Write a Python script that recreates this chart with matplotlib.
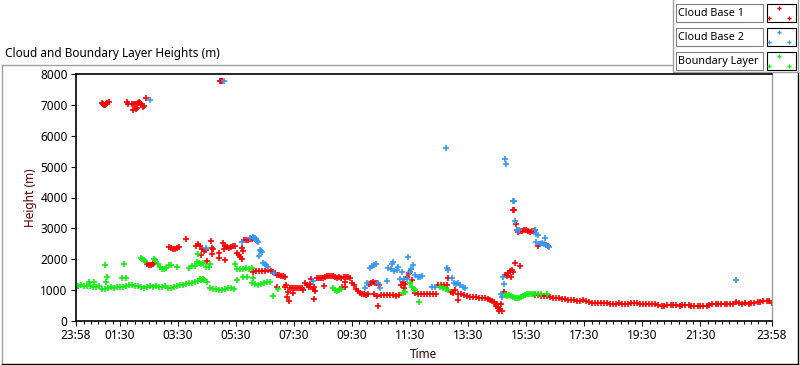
import matplotlib
matplotlib.use('Agg')
import matplotlib.pyplot as plt
from matplotlib.patches import Rectangle

plt.rcParams['font.family'] = ['Noto Sans', 'DejaVu Sans']

# time in hours after midnight (chart runs 23:58 -> 23:58), heights in m
cb1_t = [0.88, 0.91, 0.95, 0.98, 1.02, 1.05, 1.12,
         1.74, 1.78, 1.91, 1.95, 1.98, 2.02, 2.05, 2.09, 2.12, 2.16, 2.19, 2.22, 2.29, 2.33, 2.40,
         4.95, 4.98, 5.02,
         2.43, 2.50, 2.57, 2.64, 2.67,
         3.19, 3.26, 3.33, 3.40, 3.47, 3.53, 3.78,
         4.12, 4.19, 4.26, 4.29, 4.33, 4.40, 4.47, 4.50, 4.64, 4.67, 4.68, 4.71, 4.91, 4.92,
         5.05, 5.09, 5.12, 5.13, 5.19, 5.26, 5.33, 5.40, 5.47, 5.53, 5.60, 5.64, 5.71, 5.71,
         5.74, 5.78, 5.84, 5.91, 5.98, 6.05, 6.09,
         6.09, 6.19, 6.29, 6.40, 6.50, 6.60, 6.71, 6.78, 6.84, 6.91, 6.98, 7.05, 7.12, 7.19,
         6.91, 7.19, 7.22, 7.29, 7.26, 7.33, 7.36, 7.43, 7.50, 7.57, 7.64, 7.71, 7.78, 7.47, 7.81,
         7.88, 7.95, 8.02, 8.05, 8.09, 8.16, 8.19, 8.22, 8.20,
         8.29, 8.36, 8.43, 8.50, 8.57, 8.54, 8.64, 8.71, 8.78, 8.85, 8.91, 8.98, 9.05, 9.12,
         9.16, 9.26, 9.22, 9.29, 9.36, 9.43, 9.27,
         9.50, 9.57, 9.64, 9.71, 9.78, 9.84, 9.91, 9.98, 10.05, 10.09, 10.16, 10.22, 10.29,
         10.36, 10.43, 10.26, 10.36, 10.40,
         10.50, 10.60, 10.71, 10.81, 10.91, 11.02, 11.12, 11.19, 11.26, 11.33, 11.29, 11.40,
         11.47, 11.57,
         11.67, 11.78, 11.88, 11.98, 12.09, 12.19, 12.29, 12.40,
         12.47, 12.57, 12.67, 12.78, 12.81, 12.91, 12.98, 13.05, 13.16, 13.15, 13.26, 13.36,
         13.47, 13.57, 13.67, 13.78, 13.88, 13.98, 14.09,
         14.19, 14.26, 14.33, 14.40, 14.47, 14.50, 14.53, 14.60, 14.57, 14.67, 14.62,
         14.74, 14.78, 14.84, 14.88, 14.95, 14.98, 15.02, 15.05, 15.12, 15.29,
         15.05, 15.09, 15.14, 15.17, 15.22, 15.29, 15.36, 15.43, 15.50, 15.57, 15.64, 15.71,
         15.78, 15.81, 15.91, 15.98, 16.19, 16.26,
         15.81, 15.91, 16.02, 16.12, 16.22, 16.33, 16.43, 16.53, 16.64, 16.74, 16.84, 16.95,
         17.05, 17.16, 17.26, 17.36, 17.47, 17.57, 17.67, 17.78, 17.88, 17.98, 18.09, 18.19,
         18.29, 18.40, 18.50, 18.60, 18.71, 18.81, 18.91, 19.02, 19.12, 19.22, 19.33, 19.43,
         19.53, 19.64, 19.74, 19.84, 19.95, 20.05, 20.16, 20.26, 20.36, 20.47, 20.57, 20.67,
         20.78, 20.88, 20.98, 21.09, 21.19, 21.29, 21.40, 21.50, 21.60, 21.71, 21.81, 21.91,
         22.02, 22.12, 22.22, 22.33, 22.43, 22.53, 22.64, 22.74, 22.84, 22.95, 23.05, 23.16,
         23.26, 23.36, 23.47, 23.57, 23.67, 23.78, 23.88, 23.95]
cb1_h = [7060, 7040, 7000, 6990, 7030, 7060, 7100,
         7080, 7020, 7030, 6840, 7030, 7040, 6880, 6900, 7060, 7090, 7070, 7040, 6940, 6950, 7210,
         7760, 7780, 7760,
         1850, 1820, 1810, 1840, 1880,
         2400, 2370, 2330, 2320, 2350, 2390, 2650,
         2430, 2480, 2440, 2140, 2340, 2260, 2300, 1940, 2590, 2370, 2170, 2330, 2200, 2040,
         2530, 2320, 2430, 1980, 2400, 2380, 2400, 2420, 2430, 2200, 2130, 2070, 2010, 2360,
         2270, 2620, 2620, 2630, 2640, 2660, 2700,
         1600, 1610, 1620, 1630, 1620, 1640, 1630, 1600, 1550, 1500, 1480, 1460, 1470, 1440,
         1100, 1100, 1150, 940, 780, 650, 1070, 1060, 1070, 1060, 1080, 1070, 1060, 900, 1000,
         1230, 1150, 1100, 1200, 1360, 1040, 1100, 960, 710,
         1390, 1380, 1400, 1390, 1430, 1130, 1450, 1460, 1470, 1450, 1420, 1400, 1420, 1380,
         1100, 1100, 1430, 1440, 1430, 1400, 1270,
         1230, 1150, 1050, 980, 900, 880, 860, 850, 880, 1200, 1240, 1260, 1230,
         1220, 1180, 880, 820, 490,
         850, 840, 850, 830, 840, 820, 830, 1180, 1250, 1200, 1070, 1420,
         1560, 1330,
         900, 880, 880, 870, 880, 870, 860, 870,
         1160, 1170, 1180, 1170, 1390, 950, 920, 1000, 680, 880, 870, 830,
         800, 790, 780, 770, 760, 760, 740,
         720, 690, 640, 600, 500, 560, 430, 380, 320, 320, 560,
         940, 1500, 1450, 1550, 1620, 1420, 1650, 1600, 1880, 1780,
         3600, 3600, 3140, 2950, 2880, 2900, 2930, 2940, 2940, 2900, 2880, 2910,
         2930, 2950, 2420, 2480, 2470, 2420,
         840, 830, 820, 810, 800, 780, 760, 750, 740, 720, 700, 690,
         680, 670, 660, 660, 670, 640, 600, 590, 590, 590, 590, 580,
         570, 550, 550, 560, 570, 560, 550, 560, 570, 580, 570, 560,
         550, 550, 540, 550, 540, 520, 500, 500, 510, 520, 510, 510,
         500, 510, 520, 510, 500, 480, 470, 470, 480, 500, 520, 540,
         550, 550, 540, 550, 550, 560, 560, 600, 580, 560, 570, 560,
         570, 580, 600, 620, 650, 660, 640, 580]

cb2_t = [2.53, 5.09, 4.47, 5.71, 5.98, 6.09, 6.16, 6.19, 6.22, 6.26, 6.33, 6.36, 6.40, 6.29,
         6.43, 6.50, 6.53, 6.60, 6.81, 8.16, 9.95, 10.02, 10.12, 10.19, 10.26, 10.33, 10.40,
         10.47, 10.71, 10.74, 10.84, 10.88, 10.91, 10.95, 11.05, 11.09, 11.16, 11.22, 11.29,
         11.40, 11.43, 11.50, 11.53, 11.60, 11.67, 11.78, 11.84, 11.91, 12.26, 12.36, 12.74,
         12.78, 12.81, 12.95, 13.02, 13.09, 13.16, 13.22, 13.33, 13.40, 14.64, 14.67, 14.71,
         14.74, 14.78, 14.81, 15.05, 15.09, 15.12, 15.19, 15.26, 15.81, 15.84, 15.91, 16.15,
         15.85, 15.98, 16.05, 16.12, 16.19, 16.29, 22.71]
cb2_h = [7160, 7780, 2370, 2560, 2700, 2720, 2680, 2650, 2600, 2560, 2300, 2270, 2240, 2100,
         1880, 1830, 1800, 1760, 1550, 1300, 1070, 1230, 1720, 1780, 1820, 1850, 1230,
         1070, 1300, 1720, 1680, 1850, 1910, 1620, 1650, 1750, 1360, 1590, 1360,
         1350, 2070, 1600, 1700, 1800, 1490, 1420, 1420, 1460, 1100, 1100, 5600,
         1720, 1650, 1390, 1230, 1200, 1230, 1170, 1100, 1070, 880, 780, 1420,
         1200, 5250, 5090, 3890, 3890, 3240, 2950, 2950, 2950, 2820, 2800, 2690,
         2560, 2480, 2530, 2500, 2450, 2400, 1330]

bl_t = [-0.03, 0.05, 0.16, 0.26, 0.36, 0.47, 0.57, 0.67, 0.78, 0.88, 0.98, 1.09, 1.19, 1.29,
        1.40, 1.50, 1.60, 1.71, 1.81, 1.91, 2.02, 2.12, 2.22, 2.33, 2.43, 2.53, 2.64, 2.74,
        2.84, 2.95, 3.05, 3.16, 3.26, 3.36, 3.47, 3.57, 3.67, 3.78, 3.88, 3.98, 4.09, 4.19,
        4.29, 4.40, 4.50, 4.60, 4.71, 4.81, 4.91, 5.02, 5.12, 5.22, 5.33, 5.43,
        0.43, 0.60, 0.98, 1.02, 1.05, 1.57, 1.64, 1.70, 2.22, 2.26, 2.33, 2.36, 2.67, 2.71,
        2.81, 2.88, 2.95, 3.02, 3.09, 3.19, 3.26, 3.47, 3.88, 3.98, 4.09, 4.16, 4.22, 4.29,
        4.36, 4.19, 4.26, 4.36, 4.47, 4.57, 4.60,
        5.47, 5.53, 5.64, 5.74, 5.84, 5.95, 6.05, 5.53, 5.74, 5.88, 6.09, 6.05, 6.16, 6.26,
        6.36, 6.47, 6.57, 6.67, 6.78, 6.95,
        8.85, 8.91, 8.98, 9.05, 9.12,
        11.26, 11.33, 11.50, 11.57, 11.64, 11.67, 11.81, 12.53, 12.64, 12.74, 12.81,
        14.78, 14.84, 14.91, 14.98, 15.05, 15.12, 15.19, 15.26, 15.33, 15.40, 15.47, 15.53,
        15.60, 15.67, 15.74, 15.81, 15.91, 16.02, 16.22]
bl_h = [1080, 1130, 1160, 1140, 1120, 1130, 1100, 1090, 1120, 1050, 1030, 1060, 1090, 1080,
        1090, 1110, 1100, 1130, 1150, 1160, 1140, 1130, 1110, 1070, 1110, 1120, 1100, 1130,
        1100, 1090, 1120, 1080, 1060, 1090, 1130, 1150, 1170, 1200, 1220, 1240, 1260, 1300,
        1340, 1330, 1250, 1080, 1050, 1030, 1010, 1020, 1040, 1060, 1070, 1050,
        1250, 1270, 1810, 1270, 1440, 1390, 1840, 1380, 2040, 2010, 1970, 1930, 2010, 1960,
        1850, 1740, 1700, 1690, 1720, 1800, 1810, 1760, 1730, 1780, 1780, 1900, 1880, 1860,
        1880, 2170, 1360, 1360, 1750, 1760, 1850,
        1850, 1700, 1690, 1700, 1710, 1700, 1710, 1330, 1420, 1440, 1400, 1230, 1200, 1170,
        1200, 1230, 1260, 1260, 810, 1040,
        1060, 1000, 970, 1000, 1040,
        920, 940, 1230, 1100, 1040, 1000, 620, 1100, 1070, 1040, 1000,
        830, 820, 840, 810, 780, 750, 740, 750, 770, 820, 850, 870,
        880, 870, 880, 860, 880, 860, 870]

xtick_pos = [-2 / 60, 1.5, 3.5, 5.5, 7.5, 9.5, 11.5, 13.5, 15.5, 17.5, 19.5, 21.5, 24 - 2 / 60]
xtick_lab = ['23:58', '01:30', '03:30', '05:30', '07:30', '09:30', '11:30', '13:30',
             '15:30', '17:30', '19:30', '21:30', '23:58']
series_names = ['Cloud Base 1', 'Cloud Base 2', 'Boundary Layer']
series_colors = ['#ff0000', '#3399ff', '#11ee11']

fig = plt.figure(figsize=(8, 3.65), dpi=100)

# background layer in pixel coordinates for the frame and legend
bg = fig.add_axes([0, 0, 1, 1])
bg.set_xlim(0, 800)
bg.set_ylim(365, 0)
bg.axis('off')
grey = '#a0a0a0'
bg.plot([2, 2], [65, 364], color=grey, lw=1)
bg.plot([2, 673], [65, 65], color=grey, lw=1)
bg.plot([2, 798], [364, 364], color='black', lw=1)
bg.plot([798, 798], [72, 364], color='black', lw=1)
bg.plot([673, 673, 798, 798], [0, 72, 72, 0], color=grey, lw=1)

for i, (name, col) in enumerate(zip(series_names, series_colors)):
    y0 = 4 + 24 * i
    bg.add_patch(Rectangle((676, y0), 87, 18, facecolor='white', edgecolor='#808080', lw=0.8))
    bg.text(678, y0 + 9.5, name, fontsize=7.8, va='center', ha='left')
    bg.add_patch(Rectangle((767, y0), 29, 18, facecolor='white', edgecolor='black', lw=0.8))
    bg.plot([779, 769, 789], [y0 + 4, y0 + 14, y0 + 14], '+', color=col, ms=3.5, mew=1, ls='none')

fig.text(5 / 800, 1 - 54 / 365, 'Cloud and Boundary Layer Heights (m)', fontsize=8.5,
         va='center', ha='left')

ax = fig.add_axes([75.5 / 800, 1 - 321 / 365, (772 - 75.5) / 800, (321 - 74) / 365])
ax.plot(cb1_t, cb1_h, '+', color=series_colors[0], ms=4, mew=1.2, ls='none')
ax.plot(cb2_t, cb2_h, '+', color=series_colors[1], ms=4, mew=1.2, ls='none')
ax.plot(bl_t, bl_h, '+', color=series_colors[2], ms=4, mew=1.2, ls='none')

ax.set_xlim(-2 / 60, 24 - 2 / 60)
ax.set_ylim(0, 8000)
ax.set_xticks(xtick_pos)
ax.set_xticklabels(xtick_lab)
ax.set_xticks([q * 0.25 for q in range(1, 96)], minor=True)
ax.set_yticks(range(0, 8001, 1000))
ax.tick_params(axis='both', which='major', length=3.6, width=0.8, labelsize=8.5, pad=2)
ax.tick_params(axis='x', which='minor', length=2.2, width=0.8)
for s in ['top', 'left', 'bottom']:
    ax.spines[s].set_linewidth(1.2)
ax.spines['right'].set_color(grey)
ax.spines['right'].set_linewidth(1)

ax.set_ylabel('Height (m)', fontsize=8.5, color='#5a0000', va='center')
ax.yaxis.set_label_coords(-0.0653, 0.5)
ax.set_xlabel('Time', fontsize=8.5, color='#3a0000', va='center')
ax.xaxis.set_label_coords(0.5, -0.134)

fig.savefig('out.png', dpi=100)
